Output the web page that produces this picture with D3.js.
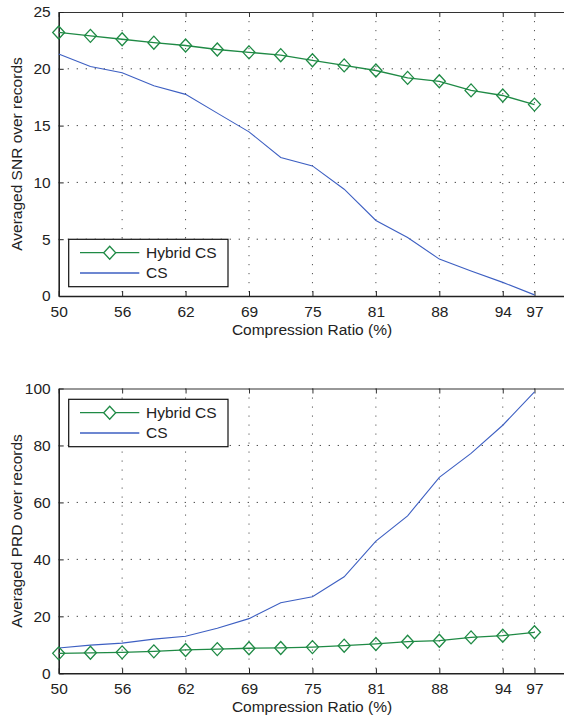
<!DOCTYPE html>
<html>
<head>
<meta charset="utf-8">
<script src="https://cdn.jsdelivr.net/npm/d3@7/dist/d3.min.js"></script>
<style>
  html, body { margin: 0; padding: 0; background: #fff; }
  svg { display: block; }
  text { font-family: "Liberation Sans", Arial, Helvetica, sans-serif; fill: #222; }
</style>
</head>
<body>
<svg id="chart" width="564" height="721"></svg>
<script>
// ---- data ----
const compressionRatio = [50, 53.125, 56.25, 59.375, 62.5, 65.625, 68.75, 71.875, 75, 78.125, 81.25, 84.375, 87.5, 90.625, 93.75, 96.875];
const xTickValues = [50, 56.25, 62.5, 68.75, 75, 81.25, 87.5, 93.75, 96.875];
const xTickLabels = ["50", "56", "62", "69", "75", "81", "88", "94", "97"];
const seriesNames = ["Hybrid CS", "CS"];

const snrHybrid = [23.2, 22.9, 22.6, 22.3, 22.05, 21.7, 21.45, 21.2, 20.75, 20.3, 19.85, 19.2, 18.9, 18.1, 17.65, 16.85];
const snrCS     = [21.3, 20.2, 19.65, 18.5, 17.75, 16.1, 14.45, 12.2, 11.45, 9.4, 6.65, 5.15, 3.25, 2.2, 1.2, 0.1];
const snrTicks  = [0, 5, 10, 15, 20, 25];

const prdHybrid = [7.0, 7.2, 7.35, 7.7, 8.2, 8.5, 8.8, 8.9, 9.2, 9.7, 10.3, 11.1, 11.45, 12.6, 13.2, 14.4];
const prdCS     = [8.9, 9.9, 10.6, 12.0, 13.0, 15.8, 19.2, 24.8, 26.9, 33.9, 46.4, 55.3, 68.8, 77.2, 87.1, 98.8];
const prdTicks  = [0, 20, 40, 60, 80, 100];

// ---- styles ----
const GREEN = "#1f8a45";
const BLUE = "#3d5fc2";
const FONT = 15.5;

const svg = d3.select("#chart");
const left = 58.7, right = 566.2;
const x = d3.scaleLinear().domain([50, 100]).range([left, right]);

function panel(cfg) {
  const y = d3.scaleLinear().domain(cfg.domain).range([cfg.bottom, cfg.top]);
  const g = svg.append("g");

  // grid
  g.append("g").selectAll("line.vg").data(xTickValues.slice(1)).join("line")
    .attr("x1", d => x(d)).attr("x2", d => x(d))
    .attr("y1", cfg.top).attr("y2", cfg.bottom)
    .attr("stroke", "#555").attr("stroke-width", 1)
    .attr("stroke-dasharray", "1.2,7.8");
  g.append("g").selectAll("line.hg").data(cfg.ticks.slice(1, -1)).join("line")
    .attr("x1", left).attr("x2", right)
    .attr("y1", d => y(d)).attr("y2", d => y(d))
    .attr("stroke", "#333").attr("stroke-width", 1)
    .attr("stroke-dasharray", "1.2,7.8");

  // axes
  const xAxis = d3.axisBottom(x).tickValues(xTickValues)
    .tickFormat((d, i) => xTickLabels[i]).tickSizeInner(-5).tickSizeOuter(0).tickPadding(10);
  const gx = g.append("g").attr("transform", `translate(0,${cfg.bottom})`).call(xAxis);
  gx.selectAll("text").attr("font-size", FONT).style("font-family", "Liberation Sans, Arial, sans-serif").attr("fill", "#222");
  gx.select(".domain").attr("stroke", "#222").attr("stroke-width", 1.6);
  gx.selectAll(".tick line").attr("stroke", "#222");

  const xTop = d3.axisTop(x).tickValues(xTickValues).tickFormat("").tickSizeInner(-5).tickSizeOuter(0);
  const gt = g.append("g").attr("transform", `translate(0,${cfg.top})`).call(xTop);
  gt.select(".domain").attr("stroke", "#333").attr("stroke-width", 1.2);
  gt.selectAll(".tick line").attr("stroke", "#333");

  const yAxis = d3.axisLeft(y).tickValues(cfg.ticks).tickSizeInner(-5).tickSizeOuter(0).tickPadding(8);
  const gy = g.append("g").attr("transform", `translate(${left},0)`).call(yAxis);
  gy.selectAll("text").attr("font-size", FONT).style("font-family", "Liberation Sans, Arial, sans-serif").attr("fill", "#222");
  gy.select(".domain").attr("stroke", "#222").attr("stroke-width", 1.6);
  gy.selectAll(".tick line").attr("stroke", "#222");

  // axis titles
  g.append("text").attr("x", 312).attr("y", cfg.bottom + 39)
    .attr("text-anchor", "middle").attr("font-size", FONT).text("Compression Ratio (%)");
  g.append("text")
    .attr("transform", `translate(22,${(cfg.top + cfg.bottom) / 2}) rotate(-90)`)
    .attr("text-anchor", "middle").attr("font-size", FONT).text(cfg.ylabel);

  // lines
  const line = d3.line().x((d, i) => x(compressionRatio[i])).y(d => y(d));
  g.append("path").datum(cfg.cs).attr("d", line)
    .attr("fill", "none").attr("stroke", BLUE).attr("stroke-width", 1.1);
  g.append("path").datum(cfg.hybrid).attr("d", line)
    .attr("fill", "none").attr("stroke", GREEN).attr("stroke-width", 1.3);

  const diamond = "M0,-6.5L6,0L0,6.5L-6,0Z";
  g.append("g").selectAll("path").data(cfg.hybrid).join("path")
    .attr("transform", (d, i) => `translate(${x(compressionRatio[i])},${y(d)})`)
    .attr("d", diamond).attr("fill", "none").attr("stroke", GREEN).attr("stroke-width", 1.3);

  // legend
  const lg = g.append("g").attr("transform", `translate(68.7,${cfg.legendTop})`);
  lg.append("rect").attr("width", 159.3).attr("height", 47.4)
    .attr("fill", "#fff").attr("stroke", "#111").attr("stroke-width", 1.2);
  const rows = [
    { name: seriesNames[0], color: GREEN, marker: true, dy: 13.4 },
    { name: seriesNames[1], color: BLUE, marker: false, dy: 33.7 }
  ];
  rows.forEach(r => {
    lg.append("line").attr("x1", 11.3).attr("x2", 70.6).attr("y1", r.dy).attr("y2", r.dy)
      .attr("stroke", r.color).attr("stroke-width", r.marker ? 1.3 : 1.6);
    if (r.marker) {
      lg.append("path").attr("transform", `translate(41,${r.dy})`).attr("d", diamond)
        .attr("fill", "#fff").attr("stroke", r.color).attr("stroke-width", 1.3);
    }
    lg.append("text").attr("x", 77.3).attr("y", r.dy + 5.5).attr("font-size", FONT).text(r.name);
  });
}

panel({ domain: [0, 25], ticks: snrTicks, top: 12, bottom: 296,
        hybrid: snrHybrid, cs: snrCS, ylabel: "Averaged SNR over records", legendTop: 239.3 });
panel({ domain: [0, 100], ticks: prdTicks, top: 388.5, bottom: 673.3,
        hybrid: prdHybrid, cs: prdCS, ylabel: "Averaged PRD over records", legendTop: 399.3 });
</script>
</body>
</html>
